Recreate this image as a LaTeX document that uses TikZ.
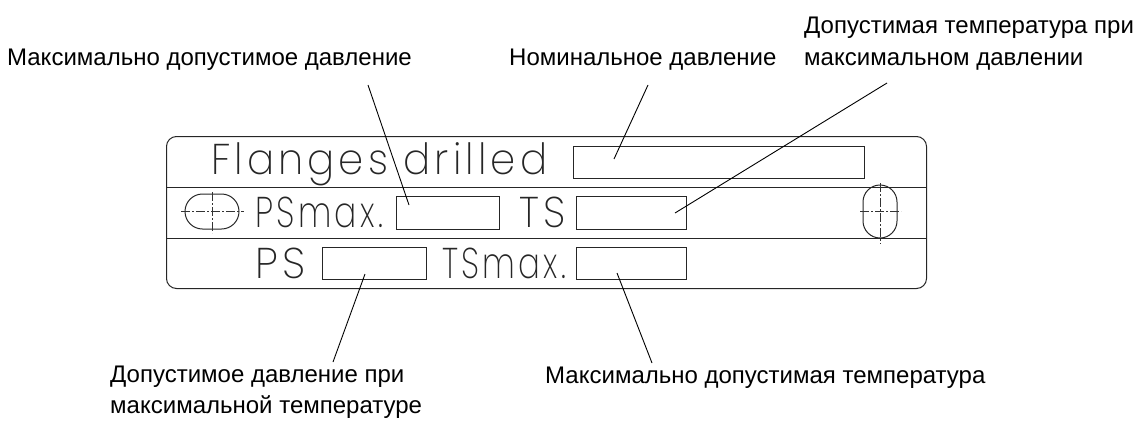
\documentclass[tikz,border=0pt]{standalone}
\usepackage{fontspec}
\usepackage{graphicx}
\setmainfont{Liberation Sans}
\IfFontExistsTF{Poppins ExtraLight}
  {\newfontfamily\platefont{Poppins ExtraLight}[FakeStretch=0.78,LetterSpace=8]}
  {\IfFontExistsTF{DejaVu Sans ExtraLight}
     {\newfontfamily\platefont{DejaVu Sans ExtraLight}[FakeStretch=0.8,LetterSpace=8]}
     {\newfontfamily\platefont{DejaVu Sans}[FakeStretch=0.8,LetterSpace=8]}}
\newcommand{\fitw}[2]{\resizebox{#1}{\height}{#2}}
\begin{document}
\begin{tikzpicture}[x=1pt,y=-1pt,
  plateline/.style={line width=1pt, draw=black!85},
  fieldbox/.style={draw=black!85, line width=1.1pt, inner sep=0pt, anchor=north west},
  leader/.style={line width=0.9pt, draw=black},
  axisline/.style={line width=0.5pt, draw=black!80, dash pattern=on 9pt off 2pt on 2pt off 2pt},
  slot/.style={draw=black!85, line width=1pt, inner sep=0pt},
  lbl/.style={inner sep=0pt, font=\fontsize{24}{30}\selectfont},
  ptxt/.style={inner sep=0pt, anchor=base west, text=black!85, font=\platefont\fontsize{43}{43}\selectfont}
]
\useasboundingbox (0,0) rectangle (1139,426);

% plate
\node (plate) [draw=black!85, line width=1pt, rounded corners=10pt, minimum width=760pt, minimum height=152pt, inner sep=0pt, anchor=north west] at (166,136) {};
\draw[plateline] (plate.west |- 0,187) -- (plate.east |- 0,187);
\draw[plateline] (plate.west |- 0,238) -- (plate.east |- 0,238);

% field boxes
\node (b1) [fieldbox, minimum width=291pt, minimum height=32pt] at (573,146) {};
\node (b2) [fieldbox, minimum width=103pt, minimum height=33pt] at (396,196) {};
\node (b3) [fieldbox, minimum width=110pt, minimum height=33pt] at (576,196) {};
\node (b4) [fieldbox, minimum width=104pt, minimum height=32pt] at (322,247) {};
\node (b5) [fieldbox, minimum width=110pt, minimum height=32pt] at (576,247) {};

% plate texts
\node (t1) [ptxt] at (211,174) {\fitw{336pt}{Flanges drilled}};
\node (t2) [ptxt] at (255,227) {\fitw{128pt}{PSmax.}};
\node (t3) [ptxt] at (519,227) {\fitw{46pt}{TS}};
\node (t4) [ptxt] at (255,278) {\fitw{50pt}{PS}};
\node (t5) [ptxt] at (442,278) {\fitw{124pt}{TSmax.}};

% slots
\node (sl) [slot, rounded corners=17.5pt, minimum width=54pt, minimum height=35pt] at (212,211.5) {};
\draw[axisline] (181,211.5) -- (244,211.5);
\draw[axisline] (212,192) -- (212,233);
\node (sr) [slot, rounded corners=17pt, minimum width=34pt, minimum height=53pt] at (880,211.5) {};
\draw[axisline] (860,211.5) -- (901,211.5);
\draw[axisline] (880,183) -- (880,244);

% labels
\node (l1) [lbl, anchor=base east] at (412,65) {Максимально допустимое давление};
\node (l2) [lbl, anchor=base west] at (509,65) {Номинальное давление};
\node (l3a) [lbl, anchor=base west] at (804,33) {Допустимая температура при};
\node (l3b) [lbl, anchor=base west] at (804,65) {максимальном давлении};
\node (l4a) [lbl, anchor=base west] at (110,382) {Допустимое давление при};
\node (l4b) [lbl, anchor=base west] at (110,413) {максимальной температуре};
\node (l5) [lbl, anchor=base west] at (545,383) {Максимально допустимая температура};

% leader ends
\coordinate (p1) at (368,85);  \coordinate (q1) at (409,205);
\coordinate (p2) at (648,85);  \coordinate (q2) at (614,159);
\coordinate (p3) at (887,83);  \coordinate (q3) at (675,213);
\coordinate (p4) at (333,362); \coordinate (q4) at (365,274);
\coordinate (p5) at (652,363); \coordinate (q5) at (617,273);
\draw[leader] (p1) -- (q1);
\draw[leader] (p2) -- (q2);
\draw[leader] (p3) -- (q3);
\draw[leader] (q4) -- (p4);
\draw[leader] (q5) -- (p5);
\end{tikzpicture}
\end{document}
